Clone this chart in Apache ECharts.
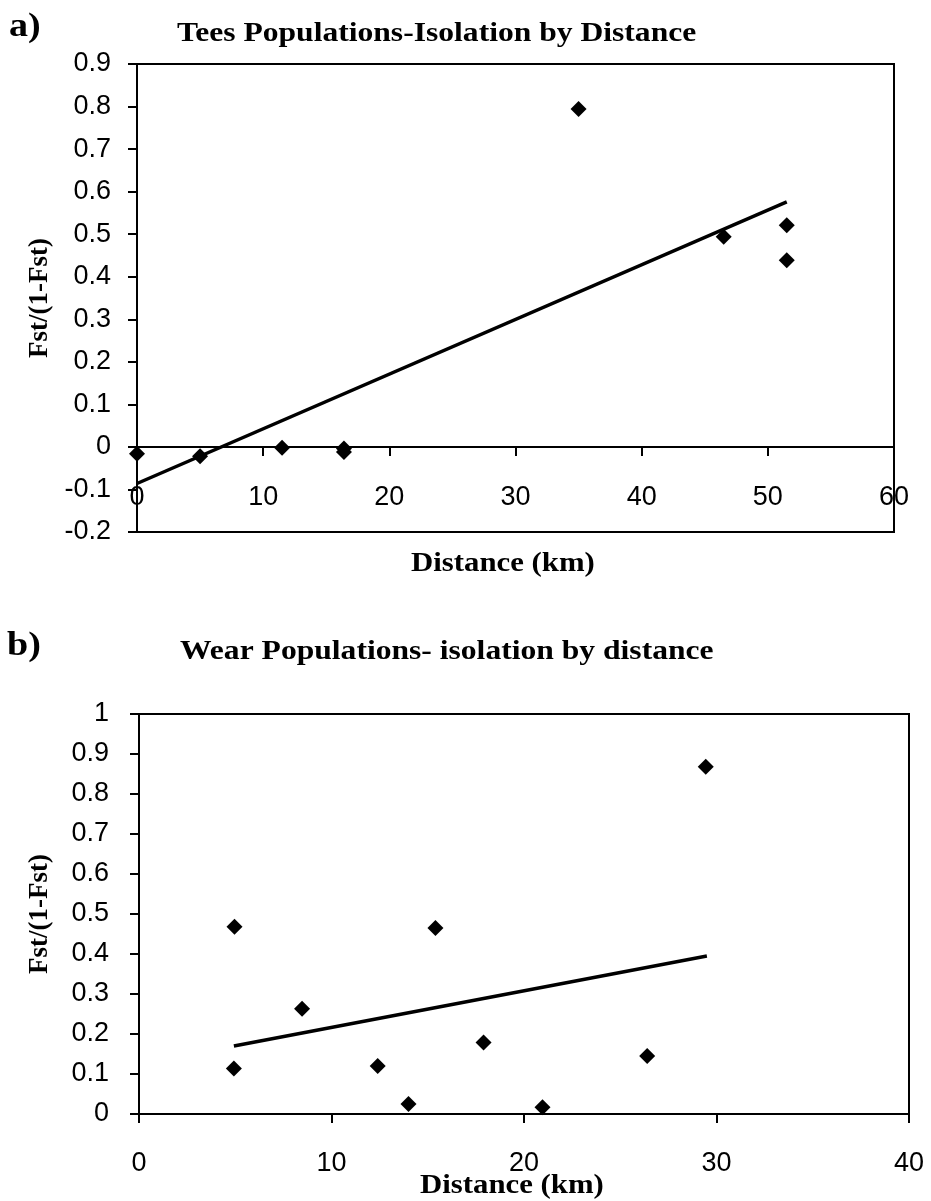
<!DOCTYPE html>
<html><head><meta charset="utf-8">
<script src="https://cdn.jsdelivr.net/npm/echarts@6/dist/echarts.min.js"></script>
<style>html,body{margin:0;padding:0;background:#fff}#c{width:931px;height:1201px}</style>
</head><body><div id="c"></div>
<script>
// Panel a) Tees populations
const teesDistance = [0, 5, 11.5, 16.4, 16.4, 35, 46.5, 51.5, 51.5];
const teesFst = [-0.016, -0.022, -0.002, -0.004, -0.012, 0.794, 0.494, 0.521, 0.439];
const teesTrendX = [0, 51.5];
const teesTrendY = [-0.086, 0.576];
const teesXTicks = [0, 10, 20, 30, 40, 50, 60];
const teesYTicks = [-0.2, -0.1, 0, 0.1, 0.2, 0.3, 0.4, 0.5, 0.6, 0.7, 0.8, 0.9];
// Panel b) Wear populations
const wearDistance = [4.96, 4.93, 8.47, 12.4, 14.0, 15.4, 17.9, 20.96, 26.4, 29.44];
const wearFst = [0.468, 0.114, 0.263, 0.12, 0.025, 0.465, 0.179, 0.017, 0.145, 0.868];
const wearTrendX = [4.93, 29.5];
const wearTrendY = [0.17, 0.395];
const wearXTicks = [0, 10, 20, 30, 40];
const wearYTicks = [0, 0.1, 0.2, 0.3, 0.4, 0.5, 0.6, 0.7, 0.8, 0.9, 1];

const zip = (a, b) => a.map((v, i) => [v, b[i]]);
const serif = '"Liberation Serif", "Times New Roman", serif';
const sans = '"Liberation Sans", Arial, sans-serif';
const fmt = v => String(Math.round(v * 10) / 10);

function axes(xt, yt, gi, xMargin, yMargin) {
  const x = {
    type: 'value', gridIndex: gi, min: xt[0], max: xt[xt.length - 1], interval: xt[1] - xt[0],
    axisLine: { onZero: true, lineStyle: { color: '#000', width: 2 } },
    axisTick: { show: true, inside: false, length: 9, lineStyle: { color: '#000', width: 2 } },
    axisLabel: { color: '#000', fontFamily: sans, fontSize: 27, margin: xMargin, formatter: fmt, showMinLabel: true, showMaxLabel: true },
    splitLine: { show: false }
  };
  const y = {
    type: 'value', gridIndex: gi, min: yt[0], max: yt[yt.length - 1], interval: 0.1,
    axisLine: { onZero: false, lineStyle: { color: '#000', width: 2 } },
    axisTick: { show: true, inside: false, length: 9, lineStyle: { color: '#000', width: 2 } },
    axisLabel: { color: '#000', fontFamily: sans, fontSize: 27, margin: yMargin, formatter: fmt },
    splitLine: { show: false }
  };
  return [x, y];
}
const [xa, ya] = axes(teesXTicks, teesYTicks, 0, -48, 26);
const [xb, yb] = axes(wearXTicks, wearYTicks, 1, 36, 30);

const chart = echarts.init(document.getElementById('c'), null, { renderer: 'canvas' });
const txt = (text, x, y, size, sx) => ({
  type: 'text', x, y, scaleX: sx,
  style: { text, fill: '#000', font: 'bold ' + size + 'px ' + serif, textAlign: 'left', textVerticalAlign: 'middle' }
});
const vtxt = (text, x, y) => ({
  type: 'text', x, y, rotation: Math.PI / 2,
  style: { text, fill: '#000', font: 'bold 27px ' + serif, textAlign: 'center', textVerticalAlign: 'middle' }
});
const dot = { color: '#000', opacity: 1, borderWidth: 0 };

chart.setOption({
  backgroundColor: '#fff',
  animation: false,
  grid: [
    { left: 137, top: 64, width: 757, height: 468, show: true, borderColor: '#000', borderWidth: 2, backgroundColor: 'transparent' },
    { left: 139, top: 714, width: 770, height: 400, show: true, borderColor: '#000', borderWidth: 2, backgroundColor: 'transparent' }
  ],
  xAxis: [xa, xb],
  yAxis: [ya, yb],
  series: [
    { type: 'scatter', xAxisIndex: 0, yAxisIndex: 0, data: zip(teesDistance, teesFst), symbol: 'diamond', symbolSize: [16, 16], itemStyle: dot, z: 5 },
    { type: 'line', xAxisIndex: 0, yAxisIndex: 0, data: zip(teesTrendX, teesTrendY), showSymbol: false, symbol: 'none', lineStyle: { color: '#000', width: 3.5 }, z: 4 },
    { type: 'scatter', xAxisIndex: 1, yAxisIndex: 1, data: zip(wearDistance, wearFst), symbol: 'diamond', symbolSize: [16, 16], itemStyle: dot, z: 5 },
    { type: 'line', xAxisIndex: 1, yAxisIndex: 1, data: zip(wearTrendX, wearTrendY), showSymbol: false, symbol: 'none', lineStyle: { color: '#000', width: 3.5 }, z: 4 }
  ],
  graphic: [
    txt('a)', 9, 27, 34, 1.12),
    txt('Tees Populations-Isolation by Distance', 177, 34, 27, 1.17),
    txt('Distance (km)', 411, 564, 27, 1.14),
    vtxt('Fst/(1-Fst)', 40, 298),
    txt('b)', 7, 646, 34, 1.12),
    txt('Wear Populations- isolation by distance', 180, 652, 27, 1.17),
    txt('Distance (km)', 420, 1186, 27, 1.14),
    vtxt('Fst/(1-Fst)', 40, 914)
  ]
});
</script></body></html>
